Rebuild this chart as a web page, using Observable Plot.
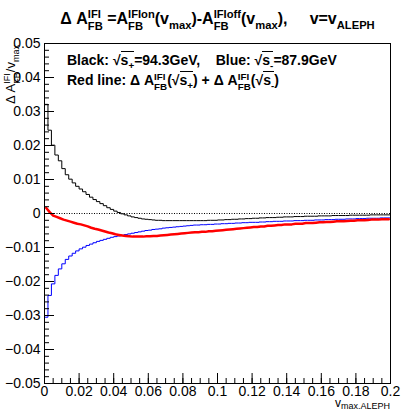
<!DOCTYPE html>
<html><head><meta charset="utf-8">
<script src="https://cdn.jsdelivr.net/npm/d3@7"></script>
<script src="https://cdn.jsdelivr.net/npm/@observablehq/plot@0.6"></script>
<style>
body{margin:0;background:#fff;font-family:"Liberation Sans",Arial,Helvetica,sans-serif;color:#000;}
#wrap{position:relative;width:405px;height:411px;overflow:hidden;}
#title{position:absolute;left:30px;top:9px;width:375px;text-align:center;font-weight:bold;font-size:16px;white-space:nowrap;line-height:1.2;}
#chart{position:absolute;left:0;top:32px;}
.ss{display:inline-block;vertical-align:-0.5em;font-size:0.7em;line-height:1.05em;text-align:left;}
.ss span{display:block;}
.sb{font-size:0.7em;vertical-align:-0.4em;}
.sq{border-top:1px solid #000;}
.note{position:absolute;font-weight:bold;font-size:14px;white-space:nowrap;line-height:1.2;}
#ylab{position:absolute;left:3px;top:104px;transform-origin:0 0;transform:rotate(-90deg);font-size:13px;white-space:nowrap;line-height:1.2;}
#xlab{position:absolute;right:15px;top:397px;font-size:12px;white-space:nowrap;line-height:1;}
#xlab .sb{vertical-align:-0.2em;font-size:0.75em;}
</style></head>
<body>
<div id="wrap">
  <div id="title">&Delta; A<span class="ss"><span>IFI</span><span>FB</span></span> =A<span class="ss"><span>IFIon</span><span>FB</span></span>(v<span class="sb">max</span>)-A<span class="ss"><span>IFIoff</span><span>FB</span></span>(v<span class="sb">max</span>),&nbsp;&nbsp;&nbsp;&nbsp; v=v<span class="sb">ALEPH</span></div>
  <div id="chart"></div>
  <div class="note" style="left:67px;top:52px;">Black: &radic;<span class="sq">s<span class="sb">+</span></span>=94.3GeV,&nbsp;&nbsp;&nbsp; Blue: &radic;<span class="sq">s<span class="sb">-</span></span>=87.9GeV</div>
  <div class="note" style="left:67px;top:72px;">Red line: &Delta; A<span class="ss"><span>IFI</span><span>FB</span></span>(&radic;<span class="sq">s<span class="sb">+</span></span>) + &Delta; A<span class="ss"><span>IFI</span><span>FB</span></span>(&radic;<span class="sq">s<span class="sb">-</span></span>)</div>
  <div id="ylab">&Delta; A<span class="ss"><span>IFI</span><span>FB</span></span>/v<span class="sb">max</span></div>
  <div id="xlab">v<span class="sb">max.ALEPH</span></div>
</div>
<script>
const binWidth = 0.002;
const blackVals = [
 0.0321, 0.0245, 0.0201, 0.0172, 0.0155, 0.0132, 0.0114, 0.0101, 0.0090, 0.0080,
 0.0072, 0.0064, 0.0056, 0.0048, 0.0041, 0.0035, 0.0029, 0.0023, 0.0017, 0.0012,
 0.0007, 0.0003, -0.0001, -0.0004, -0.0007, -0.0010, -0.0012, -0.0014, -0.0016, -0.0017,
 -0.0018, -0.0019, -0.0020, -0.0020, -0.0021, -0.0021, -0.0021, -0.0021, -0.0021, -0.0021,
 -0.0021, -0.0021, -0.0021, -0.0021, -0.0021, -0.0021, -0.0021, -0.0020, -0.0020, -0.0020,
 -0.0019, -0.0019, -0.0018, -0.0018, -0.0017, -0.0017, -0.0016, -0.0016, -0.0015, -0.0015,
 -0.0014, -0.0014, -0.0013, -0.0013, -0.0012, -0.0012, -0.0012, -0.0011, -0.0011, -0.0010,
 -0.0010, -0.0010, -0.0009, -0.0009, -0.0009, -0.0008, -0.0008, -0.0008, -0.0008, -0.0007,
 -0.0007, -0.0007, -0.0007, -0.0006, -0.0006, -0.0006, -0.0006, -0.0006, -0.0005, -0.0005,
 -0.0005, -0.0005, -0.0005, -0.0005, -0.0004, -0.0004, -0.0004, -0.0004, -0.0004, -0.0004
];
const blueVals = [
 -0.0305, -0.0241, -0.0207, -0.0182, -0.0163, -0.0148, -0.0135, -0.0125, -0.0117, -0.0110,
 -0.0104, -0.0099, -0.0094, -0.0090, -0.0086, -0.0082, -0.0079, -0.0076, -0.0073, -0.0070,
 -0.0068, -0.0066, -0.0064, -0.0062, -0.0060, -0.0058, -0.0056, -0.0054, -0.0052, -0.0050,
 -0.0049, -0.0047, -0.0046, -0.0045, -0.0043, -0.0042, -0.0041, -0.0040, -0.0039, -0.0038,
 -0.0037, -0.0036, -0.0035, -0.0034, -0.0034, -0.0033, -0.0033, -0.0032, -0.0032, -0.0031,
 -0.0031, -0.0030, -0.0030, -0.0029, -0.0029, -0.0028, -0.0028, -0.0027, -0.0027, -0.0026,
 -0.0026, -0.0026, -0.0025, -0.0025, -0.0024, -0.0024, -0.0023, -0.0023, -0.0023, -0.0022,
 -0.0022, -0.0022, -0.0021, -0.0021, -0.0021, -0.0020, -0.0020, -0.0020, -0.0019, -0.0019,
 -0.0019, -0.0018, -0.0018, -0.0018, -0.0017, -0.0017, -0.0017, -0.0016, -0.0016, -0.0016,
 -0.0015, -0.0015, -0.0015, -0.0014, -0.0014, -0.0014, -0.0014, -0.0013, -0.0013, -0.0013
];
const redVals = [
 0.0016, 0.0004, -0.0006, -0.0010, -0.0014, -0.0018, -0.0021, -0.0024, -0.0027, -0.0030,
 -0.0032, -0.0035, -0.0038, -0.0042, -0.0045, -0.0047, -0.0050, -0.0053, -0.0056, -0.0058,
 -0.0061, -0.0063, -0.0065, -0.0066, -0.0067, -0.0068, -0.0068, -0.0068, -0.0068, -0.0067,
 -0.0067, -0.0066, -0.0066, -0.0065, -0.0064, -0.0063, -0.0062, -0.0061, -0.0060, -0.0059,
 -0.0058, -0.0057, -0.0056, -0.0055, -0.0055, -0.0054, -0.0054, -0.0052, -0.0052, -0.0051,
 -0.0050, -0.0049, -0.0048, -0.0047, -0.0046, -0.0045, -0.0044, -0.0043, -0.0042, -0.0041,
 -0.0040, -0.0040, -0.0038, -0.0038, -0.0036, -0.0036, -0.0035, -0.0034, -0.0034, -0.0032,
 -0.0032, -0.0032, -0.0030, -0.0030, -0.0030, -0.0028, -0.0028, -0.0028, -0.0027, -0.0026,
 -0.0026, -0.0025, -0.0025, -0.0024, -0.0023, -0.0023, -0.0023, -0.0022, -0.0021, -0.0021,
 -0.0020, -0.0020, -0.0020, -0.0019, -0.0018, -0.0018, -0.0018, -0.0017, -0.0017, -0.0017
];
const xTicks = [0, 0.02, 0.04, 0.06, 0.08, 0.1, 0.12, 0.14, 0.16, 0.18, 0.2];
const yTicks = [-0.05, -0.04, -0.03, -0.02, -0.01, 0, 0.01, 0.02, 0.03, 0.04, 0.05];
const xMinor = d3.range(0, 0.2001, 0.005);
const yMinor = d3.range(-0.05, 0.0501, 0.002);

const W = 405, H = 379, mL = 44, mR = 15, mT = 11, mB = 28;
const innerW = W - mL - mR, innerH = H - mT - mB;
const fmt = d => (d < 0 ? "\u2212" + String(+(-d).toFixed(4)) : String(+d.toFixed(4)));

function stepData(vals) {
  const d = vals.map((v, i) => ({x: i * binWidth, y: v}));
  d.push({x: vals.length * binWidth, y: vals[vals.length - 1]});
  return d;
}
const redData = redVals.map((v, i) => ({x: (i + 0.5) * binWidth, y: v}));

const chart = Plot.plot({
  width: W, height: H,
  marginLeft: mL, marginRight: mR, marginTop: mT, marginBottom: mB,
  style: {fontFamily: "'Liberation Sans', Arial, Helvetica, sans-serif", fontSize: "14px", color: "#000", background: "#fff"},
  x: {domain: [0, 0.2]},
  y: {domain: [-0.05, 0.05]},
  marks: [
    Plot.ruleY([0], {stroke: "#000", strokeDasharray: "1,1.5", strokeWidth: 1}),
    Plot.line(stepData(blackVals), {x: "x", y: "y", curve: "step-after", stroke: "#000", strokeWidth: 1}),
    Plot.line(stepData(blueVals), {x: "x", y: "y", curve: "step-after", stroke: "#0000ff", strokeWidth: 1}),
    Plot.line(redData, {x: "x", y: "y", stroke: "#ff0000", strokeWidth: 2.5}),
    Plot.tickX(xTicks, {x: d => d, insetTop: innerH - 10, stroke: "#000"}),
    Plot.tickX(xMinor, {x: d => d, insetTop: innerH - 5, stroke: "#000"}),
    Plot.tickY(yTicks, {y: d => d, insetRight: innerW - 10, stroke: "#000"}),
    Plot.tickY(yMinor, {y: d => d, insetRight: innerW - 5, stroke: "#000"}),
    Plot.frame({stroke: "#000"}),
    Plot.axisX(xTicks, {tickSize: 0, tickPadding: 3, label: null, fontSize: 14, tickFormat: fmt}),
    Plot.axisY(yTicks, {tickSize: 0, tickPadding: 4, label: null, fontSize: 14, tickFormat: fmt})
  ]
});
document.getElementById("chart").appendChild(chart);
</script>
</body></html>
